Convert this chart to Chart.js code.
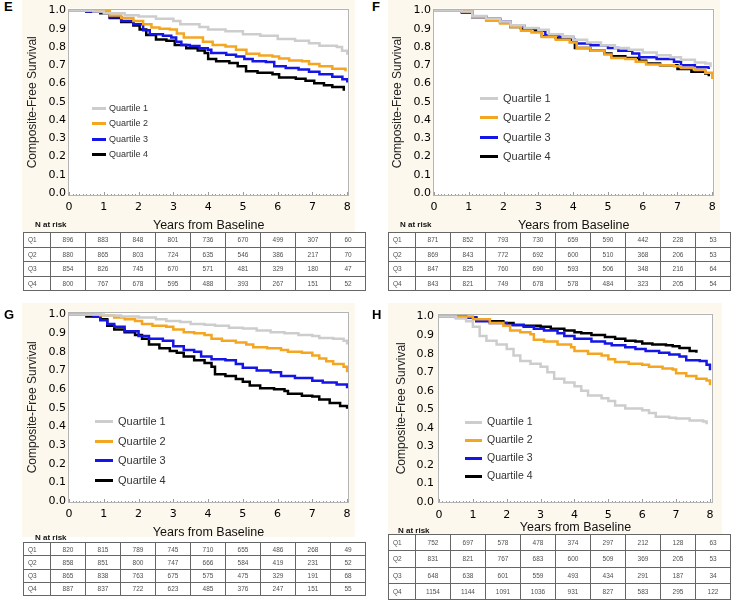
<!DOCTYPE html>
<html><head><meta charset="utf-8">
<script src="https://cdn.jsdelivr.net/npm/chart.js@4.4.0/dist/chart.umd.min.js"></script>
<style>
html,body{margin:0;padding:0;background:#fff;width:733px;height:604px;overflow:hidden;font-family:"Liberation Sans",Arial,sans-serif;}
.bg{position:absolute;background:#fdf8ee;}
canvas{position:absolute;}
.lt{position:absolute;font-weight:bold;font-size:13px;line-height:14px;color:#000;}
.nr{position:absolute;font-weight:bold;font-size:8px;line-height:10px;color:#111;}
table{position:absolute;border-collapse:collapse;table-layout:fixed;font-size:6.5px;color:#505050;}
td{border:1px solid #666;text-align:center;padding:0;overflow:hidden;white-space:nowrap;}
td.q{text-align:left;padding-left:4px;}
</style></head><body>
<script>
// ---------- DATA ----------
const seriesLabels = ["Quartile 1", "Quartile 2", "Quartile 3", "Quartile 4"];
const rowLabels = ["Q1", "Q2", "Q3", "Q4"];
const xTicks = [0, 1, 2, 3, 4, 5, 6, 7, 8];
const yTicks = [0, 0.1, 0.2, 0.3, 0.4, 0.5, 0.6, 0.7, 0.8, 0.9, 1.0];
const panelLetters = ["E", "F", "G", "H"];

// Panel E curves [years, survival]
const E_Q1 = [[0,1],[0.7,0.995],[1,0.986],[1.6,0.975],[2,0.968],[2.5,0.955],[3,0.943],[3.2,0.925],[3.75,0.91],[4,0.896],[4.5,0.887],[5,0.871],[5.5,0.862],[6,0.844],[6.5,0.835],[6.9,0.821],[7.2,0.808],[7.7,0.8],[7.85,0.78],[8,0.758]];
const E_Q2 = [[0,1],[0.9,0.996],[1.17,0.973],[1.5,0.96],[1.85,0.943],[2.13,0.925],[2.37,0.907],[2.6,0.9],[2.9,0.896],[3.1,0.875],[3.3,0.853],[3.85,0.83],[4.13,0.812],[4.5,0.803],[4.8,0.785],[5.1,0.763],[5.47,0.754],[5.85,0.749],[6.04,0.737],[6.33,0.726],[6.7,0.722],[6.9,0.708],[7.2,0.695],[7.57,0.681],[7.95,0.668]];
const E_Q3 = [[0,1],[0.5,0.995],[0.9,0.991],[1.17,0.964],[1.5,0.943],[1.85,0.925],[2.13,0.892],[2.32,0.871],[2.7,0.862],[2.94,0.853],[3.08,0.83],[3.23,0.812],[3.47,0.806],[3.75,0.794],[3.99,0.785],[4.09,0.767],[4.52,0.758],[4.8,0.749],[5.04,0.735],[5.28,0.722],[5.66,0.719],[5.9,0.695],[6.23,0.686],[6.6,0.677],[6.9,0.665],[7.2,0.651],[7.57,0.638],[7.86,0.624],[8,0.606]];
const E_Q4 = [[0,1],[0.5,0.995],[0.9,0.986],[1.17,0.96],[1.5,0.937],[1.85,0.919],[2.03,0.896],[2.22,0.866],[2.5,0.842],[2.8,0.835],[3.04,0.812],[3.37,0.794],[3.7,0.781],[3.9,0.767],[4,0.735],[4.23,0.722],[4.61,0.713],[4.85,0.695],[5.09,0.668],[5.42,0.659],[5.85,0.651],[6.04,0.633],[6.52,0.627],[6.8,0.615],[7.05,0.602],[7.33,0.591],[7.57,0.582],[7.9,0.561]];

// Panel F curves
const F_Q1 = [[0,1],[0.8,0.995],[1.1,0.97],[1.5,0.955],[1.9,0.94],[2.2,0.92],[2.6,0.905],[3,0.895],[3.3,0.87],[3.7,0.855],[4,0.84],[4.4,0.825],[4.8,0.81],[5.2,0.795],[5.6,0.785],[6,0.77],[6.4,0.755],[6.8,0.745],[7.1,0.73],[7.5,0.715],[7.8,0.71],[7.95,0.69]];
const F_Q2 = [[0,1],[0.8,0.995],[1.1,0.965],[1.5,0.945],[1.9,0.93],[2.2,0.91],[2.5,0.89],[2.8,0.88],[3.1,0.855],[3.5,0.84],[3.9,0.825],[4.1,0.795],[4.5,0.78],[4.9,0.76],[5.1,0.74],[5.5,0.735],[5.8,0.72],[6.1,0.705],[6.5,0.7],[6.9,0.695],[7.1,0.685],[7.5,0.675],[7.8,0.66],[8,0.625]];
const F_Q3 = [[0,1],[0.8,0.995],[1.1,0.965],[1.5,0.955],[1.9,0.94],[2.2,0.915],[2.6,0.9],[3,0.89],[3.2,0.865],[3.6,0.855],[4,0.835],[4.1,0.82],[4.5,0.81],[5,0.795],[5.3,0.78],[5.7,0.765],[5.9,0.745],[6.4,0.735],[6.9,0.72],[7.1,0.7],[7.5,0.69],[7.9,0.68]];
const F_Q4 = [[0,1],[0.8,0.99],[1.1,0.965],[1.5,0.95],[1.9,0.935],[2.2,0.91],[2.5,0.9],[2.9,0.89],[3.1,0.86],[3.5,0.85],[3.9,0.84],[4.05,0.795],[4.5,0.78],[4.9,0.765],[5.1,0.75],[5.5,0.74],[5.9,0.725],[6.1,0.71],[6.5,0.7],[6.9,0.7],[7,0.68],[7.4,0.665],[7.8,0.655],[7.9,0.64]];

// Panel G curves
const G_Q1 = [[0,1],[1,0.995],[1.5,0.99],[2,0.985],[2.5,0.975],[2.8,0.965],[3.2,0.96],[3.5,0.95],[3.9,0.945],[4.2,0.94],[4.6,0.93],[5,0.925],[5.4,0.915],[5.8,0.905],[6.2,0.9],[6.6,0.89],[7,0.885],[7.2,0.875],[7.6,0.87],[7.9,0.86],[8,0.84]];
const G_Q2 = [[0,1],[0.9,0.995],[1.3,0.985],[1.6,0.975],[1.9,0.965],[2.1,0.95],[2.4,0.94],[2.8,0.935],[3,0.92],[3.3,0.905],[3.6,0.9],[3.9,0.89],[4.1,0.87],[4.4,0.86],[4.8,0.85],[5.1,0.84],[5.3,0.825],[5.7,0.82],[6.1,0.81],[6.3,0.8],[6.7,0.795],[7,0.78],[7.2,0.765],[7.4,0.75],[7.6,0.735],[7.9,0.72],[8,0.69]];
const G_Q3 = [[0,1],[0.7,0.99],[0.9,0.97],[1.1,0.95],[1.3,0.935],[1.6,0.91],[2,0.885],[2.3,0.87],[2.7,0.86],[3,0.83],[3.3,0.81],[3.6,0.8],[3.8,0.775],[4.1,0.76],[4.5,0.755],[4.8,0.735],[5,0.715],[5.4,0.7],[5.8,0.69],[6.1,0.67],[6.5,0.66],[7,0.645],[7.3,0.635],[7.7,0.625],[8,0.605]];
const G_Q4 = [[0,1],[0.5,0.99],[0.9,0.975],[1.1,0.94],[1.3,0.92],[1.6,0.905],[1.9,0.89],[2.1,0.87],[2.3,0.84],[2.6,0.82],[2.9,0.805],[3.1,0.795],[3.3,0.775],[3.6,0.755],[3.9,0.74],[4.1,0.72],[4.2,0.68],[4.5,0.67],[4.8,0.655],[5,0.64],[5.2,0.62],[5.5,0.605],[5.9,0.6],[6.2,0.59],[6.3,0.575],[6.7,0.565],[7,0.56],[7.2,0.545],[7.5,0.525],[7.8,0.51],[8,0.495]];

// Panel H curves
const H_Q1 = [[0,1],[0.5,0.99],[0.8,0.975],[1,0.945],[1.2,0.895],[1.4,0.87],[1.7,0.85],[2,0.825],[2.2,0.79],[2.4,0.76],[2.7,0.745],[3,0.73],[3.2,0.7],[3.4,0.665],[3.7,0.645],[4,0.625],[4.2,0.6],[4.4,0.575],[4.8,0.56],[5,0.545],[5.2,0.52],[5.5,0.505],[6,0.495],[6.2,0.48],[6.4,0.46],[6.8,0.455],[7,0.45],[7.4,0.44],[7.8,0.435],[7.9,0.42]];
const H_Q2 = [[0,1],[0.6,1],[1,0.985],[1.5,0.965],[1.9,0.95],[2.1,0.925],[2.4,0.915],[2.7,0.905],[2.8,0.875],[3.1,0.865],[3.5,0.85],[3.9,0.835],[4,0.815],[4.4,0.8],[4.8,0.79],[5,0.77],[5.2,0.755],[5.6,0.745],[6,0.74],[6.2,0.73],[6.6,0.72],[6.9,0.715],[7,0.695],[7.3,0.68],[7.6,0.665],[7.9,0.655],[8,0.63]];
const H_Q3 = [[0,1],[0.5,0.995],[1.1,0.975],[1.5,0.965],[2,0.955],[2.5,0.945],[2.8,0.935],[3.1,0.925],[3.5,0.91],[3.7,0.895],[4,0.88],[4.5,0.865],[4.9,0.855],[5.1,0.845],[5.5,0.835],[5.8,0.825],[6.1,0.815],[6.5,0.805],[6.8,0.795],[7.1,0.785],[7.3,0.765],[7.7,0.76],[7.9,0.74],[8,0.71]];
const H_Q4 = [[0,1],[0.8,0.995],[1.1,0.985],[1.5,0.975],[1.9,0.965],[2.2,0.955],[2.5,0.95],[3,0.945],[3.3,0.935],[3.7,0.925],[4,0.915],[4.2,0.91],[4.5,0.9],[4.9,0.89],[5.2,0.88],[5.5,0.87],[5.8,0.865],[6,0.855],[6.3,0.85],[6.7,0.845],[6.9,0.84],[7.1,0.83],[7.4,0.815],[7.6,0.805]];

// Numbers at risk
const E_risk = [[896,883,848,801,736,670,499,307,60],[880,865,803,724,635,546,386,217,70],[854,826,745,670,571,481,329,180,47],[800,767,678,595,488,393,267,151,52]];
const F_risk = [[871,852,793,730,659,590,442,228,53],[869,843,772,692,600,510,368,206,53],[847,825,760,690,593,506,348,216,64],[843,821,749,678,578,484,323,205,54]];
const G_risk = [[820,815,789,745,710,655,486,268,49],[858,851,800,747,666,584,419,231,52],[865,838,763,675,575,475,329,191,68],[887,837,722,623,485,376,247,151,55]];
const H_risk = [[752,697,578,478,374,297,212,128,63],[831,821,767,683,600,509,369,205,53],[648,638,601,559,493,434,291,187,34],[1154,1144,1091,1036,931,827,583,295,122]];

// ---------- STYLE / LAYOUT ----------
const colors = ["#cdcdcd", "#f4a620", "#1515e6", "#000000"];
const panels = [
  {letter:panelLetters[0], curves:[E_Q1,E_Q2,E_Q3,E_Q4], risk:E_risk,
   bg:[22,0,333,232], cv:[22,0,333,233], plot:[68,5,350,196], x:[-0.03,8.06], y:[-0.016,1.011],
   yPad:2, yTitlePad:3, xPad:4.2, leg:[92,106,109,108,15.3,9], let:[4,0], nr:[35,220], tb:[23,232,342,58]},
  {letter:panelLetters[1], curves:[F_Q1,F_Q2,F_Q3,F_Q4], risk:F_risk,
   bg:[388,0,332,232], cv:[388,0,332,233], plot:[433,5,716,196], x:[-0.03,8.06], y:[-0.016,1.011],
   yPad:2, yTitlePad:2, xPad:4.2, leg:[480,498,503,98,19.3,11], let:[372,0], nr:[400,220], tb:[388,232,342,58]},
  {letter:panelLetters[2], curves:[G_Q1,G_Q2,G_Q3,G_Q4], risk:G_risk,
   bg:[22,303,333,234], cv:[22,303,333,237], plot:[68,310,350,503], x:[-0.03,8.06], y:[-0.011,1.016],
   yPad:2, yTitlePad:3, xPad:4.4, leg:[95,113,118,421,19.7,11], let:[4,308], nr:[35,533], tb:[23,542,342,53]},
  {letter:panelLetters[3], curves:[H_Q1,H_Q2,H_Q3,H_Q4], risk:H_risk,
   bg:[388,303,334,232], cv:[388,303,334,232], plot:[438,309,713,503], x:[-0.03,8.09], y:[-0.005,1.016],
   yPad:4, yTitlePad:6, xPad:5.4, leg:[465,482,487,422,18,10.5], let:[372,308], nr:[398,526], tb:[388,534,342,65]}
];

const panelPlugin = {
  id: 'panelDeco',
  beforeDatasetsDraw(chart) {
    const {ctx, chartArea:a} = chart;
    ctx.save();
    ctx.fillStyle = '#ffffff';
    ctx.fillRect(a.left, a.top, a.width, a.height);
    ctx.restore();
  },
  afterDraw(chart, args, o) {
    const {ctx, chartArea:a} = chart;
    const xs = chart.scales.x;
    ctx.save();
    ctx.strokeStyle = '#9a9a9a';
    ctx.lineWidth = 1;
    for (let i = 0; i <= 80; i++) {
      const px = Math.round(xs.getPixelForValue(i / 10)) + 0.5;
      const len = (i % 10 === 0) ? 4 : 2;
      ctx.beginPath();
      ctx.moveTo(px, a.bottom);
      ctx.lineTo(px, a.bottom - len);
      ctx.stroke();
    }
    ctx.strokeStyle = '#b4b4b4';
    ctx.strokeRect(Math.round(a.left) + 0.5, Math.round(a.top) + 0.5, Math.round(a.width) - 1, Math.round(a.height) - 1);
    const L = o.leg;
    ctx.font = L.size + 'px "Liberation Sans", Arial, sans-serif';
    ctx.textBaseline = 'middle';
    ctx.textAlign = 'left';
    chart.data.datasets.forEach((ds, i) => {
      const y = Math.round(L.y0 + i * L.step) + 0.5;
      ctx.strokeStyle = ds.borderColor;
      ctx.lineWidth = 3;
      ctx.beginPath();
      ctx.moveTo(L.x0, y);
      ctx.lineTo(L.x1, y);
      ctx.stroke();
      ctx.fillStyle = '#333';
      ctx.fillText(ds.label, L.tx, y);
    });
    ctx.restore();
  }
};

function place(el, l, t, w, h) {
  el.style.left = l + 'px'; el.style.top = t + 'px';
  if (w != null) el.style.width = w + 'px';
  if (h != null) el.style.height = h + 'px';
}

panels.forEach(p => {
  const bg = document.createElement('div');
  bg.className = 'bg';
  place(bg, ...p.bg);
  document.body.appendChild(bg);

  const [cl, ct, cw, ch] = p.cv;
  const cv = document.createElement('canvas');
  cv.width = cw; cv.height = ch;
  place(cv, cl, ct, cw, ch);
  document.body.appendChild(cv);

  const [pl, pt, pr, pb] = p.plot;
  const yAxisW = pl - cl;
  const xAxisH = (ct + ch) - pb;

  new Chart(cv.getContext('2d'), {
    type: 'line',
    data: {
      datasets: p.curves.map((c, i) => ({
        label: seriesLabels[i],
        data: c.map(d => ({x: d[0], y: d[1]})),
        borderColor: colors[i],
        backgroundColor: colors[i],
        borderWidth: 2.5,
        pointRadius: 0,
        stepped: 'before',
        fill: false
      }))
    },
    options: {
      responsive: false,
      animation: false,
      devicePixelRatio: 1,
      layout: {padding: {left: 0, top: pt - ct, right: (cl + cw) - pr, bottom: 0}},
      plugins: {
        legend: {display: false},
        tooltip: {enabled: false},
        panelDeco: {leg: {x0: p.leg[0] - cl, x1: p.leg[1] - cl, tx: p.leg[2] - cl, y0: p.leg[3] - ct, step: p.leg[4], size: p.leg[5]}}
      },
      scales: {
        x: {
          type: 'linear', min: p.x[0], max: p.x[1],
          afterBuildTicks: s => { s.ticks = xTicks.map(v => ({value: v})); },
          afterFit: s => { s.height = xAxisH; },
          grid: {display: false, drawTicks: false},
          border: {display: false},
          ticks: {padding: p.xPad, color: '#000', maxRotation: 0, autoSkip: false,
                  font: {family: '"DejaVu Sans", Verdana, sans-serif', size: 11},
                  callback: v => String(v)},
          title: {display: true, text: 'Years from Baseline', color: '#111',
                  font: {family: '"Liberation Sans", Arial, sans-serif', size: 12.5},
                  padding: {top: 0, bottom: 0}}
        },
        y: {
          type: 'linear', min: p.y[0], max: p.y[1],
          afterBuildTicks: s => { s.ticks = yTicks.map(v => ({value: v})); },
          afterFit: s => { s.width = yAxisW; },
          grid: {display: false, drawTicks: false},
          border: {display: false},
          ticks: {padding: p.yPad, color: '#000', autoSkip: false,
                  font: {family: '"DejaVu Sans", Verdana, sans-serif', size: 11},
                  callback: v => Number(v).toFixed(1)},
          title: {display: true, text: 'Composite-Free Survival', color: '#222',
                  font: {family: '"Liberation Sans", Arial, sans-serif', size: 12},
                  padding: {top: p.yTitlePad, bottom: 0}}
        }
      }
    },
    plugins: [panelPlugin]
  });

  const lt = document.createElement('div');
  lt.className = 'lt';
  lt.textContent = p.letter;
  place(lt, ...p.let);
  document.body.appendChild(lt);

  const nr = document.createElement('div');
  nr.className = 'nr';
  nr.textContent = 'N at risk';
  place(nr, ...p.nr);
  document.body.appendChild(nr);

  const [tl, tt, tw, th] = p.tb;
  const tb = document.createElement('table');
  place(tb, tl, tt, tw, th);
  const cg = document.createElement('colgroup');
  const c0 = document.createElement('col'); c0.style.width = '27px'; cg.appendChild(c0);
  xTicks.forEach(() => { const c = document.createElement('col'); c.style.width = '35px'; cg.appendChild(c); });
  tb.appendChild(cg);
  p.risk.forEach((row, r) => {
    const tr = document.createElement('tr');
    tr.style.height = (th / 4) + 'px';
    const q = document.createElement('td'); q.className = 'q'; q.textContent = rowLabels[r]; tr.appendChild(q);
    row.forEach(v => { const td = document.createElement('td'); td.textContent = v; tr.appendChild(td); });
    tb.appendChild(tr);
  });
  document.body.appendChild(tb);
});
</script>
</body></html>
